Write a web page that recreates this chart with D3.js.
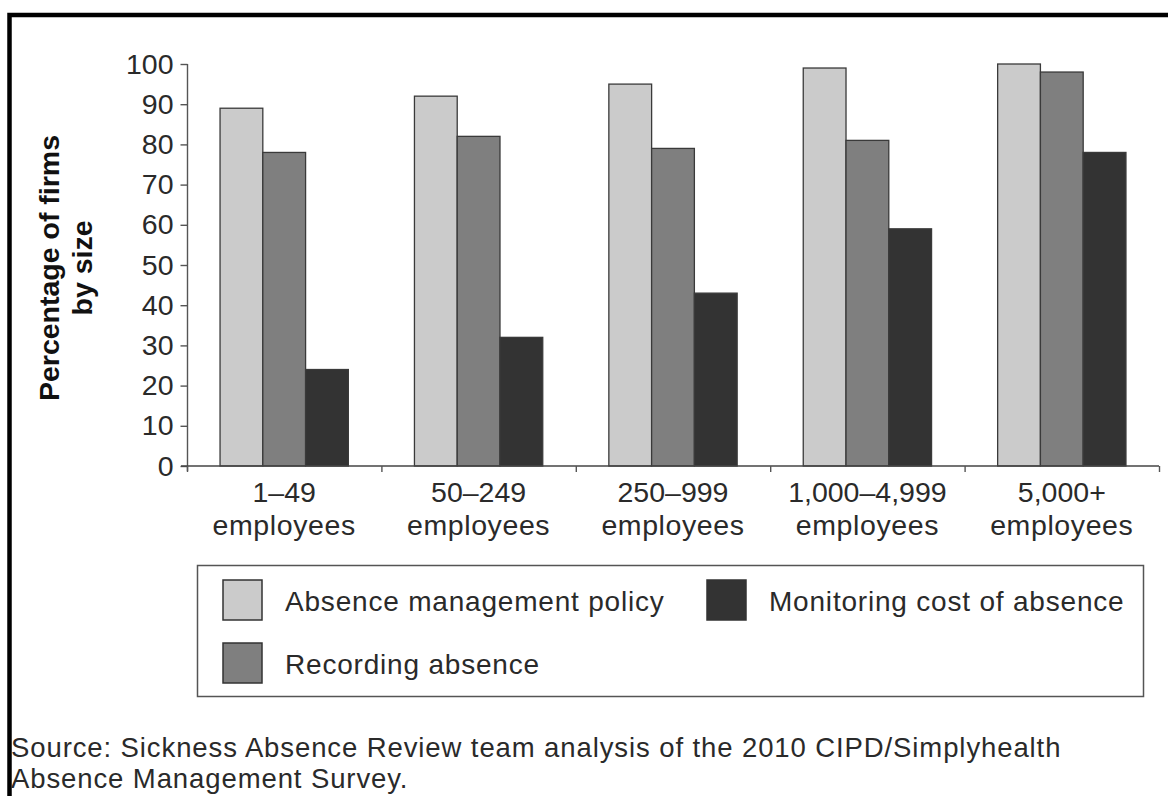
<!DOCTYPE html>
<html>
<head>
<meta charset="utf-8">
<script src="https://cdn.jsdelivr.net/npm/d3@7"></script>
<style>
  body { margin: 0; background: #fff; }
  svg { display: block; font-family: "Liberation Sans", Arial, sans-serif; }
</style>
</head>
<body>
<div id="chart"></div>
<script>
// data
const categories = [["1–49", "employees"], ["50–249", "employees"], ["250–999", "employees"],
                    ["1,000–4,999", "employees"], ["5,000+", "employees"]];
const series = ["Absence management policy", "Recording absence", "Monitoring cost of absence"];
const policy = [89, 92, 95, 99, 100];
const recording = [78, 82, 79, 81, 98];
const monitoring = [24, 32, 43, 59, 78];
const yTicks = [0, 10, 20, 30, 40, 50, 60, 70, 80, 90, 100];
const sourceLines = ["Source: Sickness Absence Review team analysis of the 2010 CIPD/Simplyhealth",
                     "Absence Management Survey."];

const fills = ["#cbcbcb", "#7f7f7f", "#333333"];
const values = [policy, recording, monitoring];

const width = 1168, height = 796;

const svg = d3.select('#chart')
    .append('svg')
    .attr('width', width)
    .attr('height', height);

// frame (top + left edges visible in the crop)
svg.append('path')
    .attr('d', `M9.5,${height} V15 H${width}`)
    .attr('fill', 'none')
    .attr('stroke', '#000')
    .attr('stroke-width', 4.5);

const catKeys = categories.map(d => d.join(' '));

const x0 = d3.scaleBand()
    .domain(catKeys)
    .range([187, 1159])
    .paddingInner(0.34)
    .paddingOuter(0.17);

const x1 = d3.scaleBand()
    .domain(series)
    .range([0, x0.bandwidth()]);

const y = d3.scaleLinear()
    .domain([0, 100])
    .range([466, 64]);

// y axis
const yAxis = svg.append('g')
    .attr('transform', 'translate(187.5,0)')
    .call(d3.axisLeft(y).tickValues(yTicks).tickSize(7).tickPadding(7));
yAxis.select('.domain').attr('stroke', '#555').attr('stroke-width', 1.4)
    .attr('d', `M0,${y(100)} V${y(0) + 5}`);
yAxis.selectAll('.tick line').attr('stroke', '#555').attr('stroke-width', 1.4);
yAxis.selectAll('.tick text')
    .attr('fill', '#2a2a2a')
    .style('font-size', '28.5px')
    .style('font-family', '"Liberation Sans", Arial, sans-serif');

// bars
const groups = svg.append('g').selectAll('g')
    .data(catKeys)
    .join('g')
    .attr('transform', d => `translate(${x0(d)},0)`);

groups.selectAll('rect')
    .data((d, i) => series.map((s, j) => ({ s, j, v: values[j][i] })))
    .join('rect')
    .attr('x', d => x1(d.s))
    .attr('y', d => y(d.v))
    .attr('width', x1.bandwidth())
    .attr('height', d => y(0) - y(d.v))
    .attr('fill', d => fills[d.j])
    .attr('stroke', '#3a3a3a')
    .attr('stroke-width', 1.3);

// x axis line and ticks between groups
const step = x0.step();
const xAxis = svg.append('g');
xAxis.append('line')
    .attr('x1', 181).attr('x2', 1159)
    .attr('y1', y(0)).attr('y2', y(0))
    .attr('stroke', '#444').attr('stroke-width', 1.6);
xAxis.selectAll('.xt')
    .data(d3.range(catKeys.length + 1))
    .join('line')
    .attr('class', 'xt')
    .attr('x1', i => x0.range()[0] + i * step + 0.5)
    .attr('x2', i => x0.range()[0] + i * step + 0.5)
    .attr('y1', y(0))
    .attr('y2', y(0) + 6)
    .attr('stroke', '#555').attr('stroke-width', 1.4);

const xl = xAxis.selectAll('.xl')
    .data(categories)
    .join('text')
    .attr('class', 'xl')
    .attr('text-anchor', 'middle')
    .attr('fill', '#2a2a2a')
    .style('font-size', '28.5px');
xl.append('tspan')
    .attr('x', (d, i) => x0(catKeys[i]) + x0.bandwidth() / 2)
    .attr('y', 502)
    .text(d => d[0]);
xl.append('tspan')
    .attr('x', (d, i) => x0(catKeys[i]) + x0.bandwidth() / 2)
    .attr('y', 535)
    .style('letter-spacing', '0.6px')
    .text(d => d[1]);

// y title
svg.append('text')
    .attr('transform', 'translate(0,268) rotate(-90)')
    .attr('text-anchor', 'middle')
    .attr('fill', '#111')
    .style('font-size', '28.5px')
    .style('font-weight', 'bold')
    .selectAll('tspan')
    .data(['Percentage of firms', 'by size'])
    .join('tspan')
    .attr('x', 0)
    .attr('y', (d, i) => i === 0 ? 59 : 92)
    .text(d => d);

// legend
const legend = svg.append('g');
legend.append('rect')
    .attr('x', 197.5).attr('y', 565.5)
    .attr('width', 946).attr('height', 131)
    .attr('fill', '#fff')
    .attr('stroke', '#555').attr('stroke-width', 1.5);

const legPos = [[223, 580], [223, 643], [707, 580]];
const legItems = legend.selectAll('.li')
    .data(series)
    .join('g')
    .attr('class', 'li')
    .attr('transform', (d, i) => `translate(${legPos[i][0]},${legPos[i][1]})`);
legItems.append('rect')
    .attr('width', 39).attr('height', 40)
    .attr('fill', (d, i) => fills[i])
    .attr('stroke', '#333').attr('stroke-width', 1.5);
legItems.append('text')
    .attr('x', 62).attr('y', 31)
    .attr('fill', '#2a2a2a')
    .style('font-size', '28px')
    .style('letter-spacing', '0.8px')
    .text(d => d);

// source note
svg.append('g').selectAll('text')
    .data(sourceLines)
    .join('text')
    .attr('x', 11)
    .attr('y', (d, i) => 757 + i * 31)
    .attr('fill', '#2a2a2a')
    .style('font-size', '27.5px')
    .style('letter-spacing', '0.9px')
    .text(d => d);
</script>
</body>
</html>
